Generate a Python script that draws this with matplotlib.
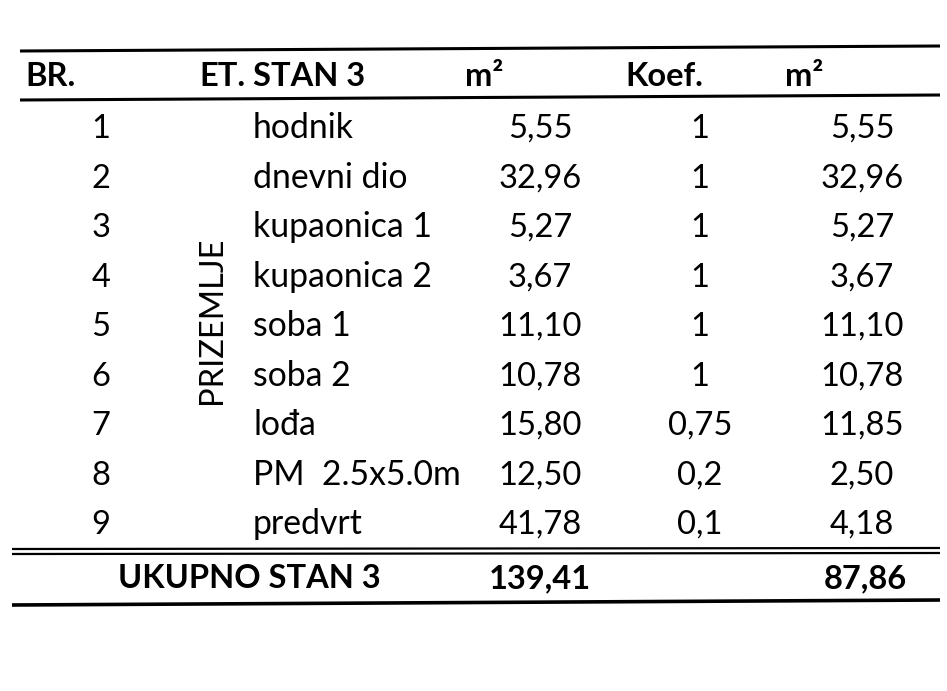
import matplotlib
matplotlib.use('Agg')
import matplotlib.pyplot as plt

plt.rcParams['font.family'] = ['Lato', 'DejaVu Sans']

# table data
headers = ['BR.', 'ET.', 'STAN 3', 'm²', 'Koef.', 'm²']
br = ['1', '2', '3', '4', '5', '6', '7', '8', '9']
prostorija = ['hodnik', 'dnevni dio', 'kupaonica 1', 'kupaonica 2', 'soba 1',
              'soba 2', 'lođa', 'PM  2.5x5.0m', 'predvrt']
povrsina = ['5,55', '32,96', '5,27', '3,67', '11,10', '10,78', '15,80', '12,50', '41,78']
koef = ['1', '1', '1', '1', '1', '1', '0,75', '0,2', '0,1']
obracun = ['5,55', '32,96', '5,27', '3,67', '11,10', '10,78', '11,85', '2,50', '4,18']
etaza = 'PRIZEMLJE'
ukupno_label = 'UKUPNO STAN 3'
ukupno_povrsina = '139,41'
ukupno_obracun = '87,86'

W, H = 947, 691
fig = plt.figure(figsize=(W / 100, H / 100), dpi=100)
ax = fig.add_axes([0, 0, 1, 1])
ax.set_xlim(0, W)
ax.set_ylim(H, 0)
ax.axis('off')

fs = 23.5
fs_name = 24.3
y_head = 86
y0 = 138
dy = 49.5

# header (baseline aligned)
hk = dict(fontsize=fs, fontweight='bold', va='baseline')
ax.text(25, y_head, headers[0], ha='left', **hk)
ax.text(246, y_head, headers[1], ha='right', **hk)
ax.text(253, y_head, headers[2], ha='left', **hk)
ax.text(465, y_head, headers[3], ha='left', **hk)
ax.text(625, y_head, headers[4], ha='left', **hk)
ax.text(785, y_head, headers[5], ha='left', **hk)

# rows
for i in range(len(br)):
    y = y0 + i * dy
    ax.text(101, y, br[i], fontsize=fs, ha='center', va='baseline')
    ax.text(253, y, prostorija[i], fontsize=fs_name, ha='left', va='baseline')
    ax.text(540, y, povrsina[i], fontsize=fs, ha='center', va='baseline')
    ax.text(700, y, koef[i], fontsize=fs, ha='center', va='baseline')
    ax.text(862, y, obracun[i], fontsize=fs, ha='center', va='baseline')

ax.text(212, 320, etaza, fontsize=fs, rotation=90, ha='center', va='center')

# totals
y_tot = 588
tk = dict(fontsize=fs, fontweight='bold', va='baseline')
ax.text(118, y_tot, ukupno_label, ha='left', **tk)
ax.text(540, y_tot, ukupno_povrsina, ha='center', **tk)
ax.text(865, y_tot, ukupno_obracun, ha='center', **tk)

# rules
lw = 2.2
ax.plot([20, 940], [51, 46], color='black', lw=lw, solid_capstyle='butt')
ax.plot([20, 940], [100, 95], color='black', lw=lw, solid_capstyle='butt')
ax.plot([12, 940], [549, 548], color='black', lw=1.6, solid_capstyle='butt')
ax.plot([12, 940], [554, 553], color='black', lw=1.6, solid_capstyle='butt')
ax.plot([12, 940], [605, 600], color='black', lw=2.6, solid_capstyle='butt')

fig.savefig('out.png', dpi=100)
